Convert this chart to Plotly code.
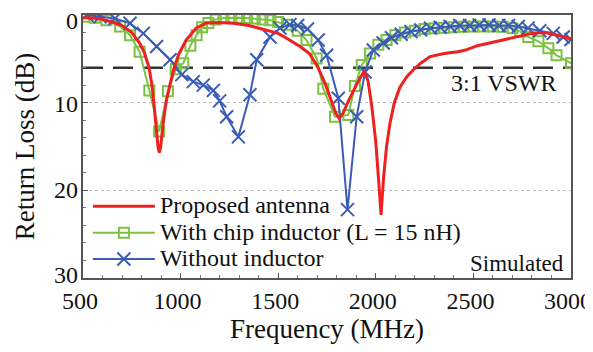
import plotly.graph_objects as go

# ---- data ----
red_f = [500, 550, 600, 650, 700, 750, 790, 815, 838, 852, 863, 873, 884, 891, 898, 910, 925, 945, 967, 990,
         1030, 1080, 1130, 1200, 1270, 1350, 1441, 1500, 1543, 1612, 1660, 1700, 1740, 1770, 1795, 1812, 1830,
         1860, 1900, 1940, 1960, 1980, 2000, 2015, 2027, 2040, 2055, 2073, 2095, 2124, 2160, 2190, 2230, 2278,
         2350, 2420, 2460, 2520, 2600, 2653, 2700, 2755, 2800, 2841, 2880, 2926, 2960, 3000]
red_db = [0.3, 0.35, 0.5, 0.8, 1.2, 2.0, 3.2, 4.3, 6.0, 7.8, 10.0, 12.5, 15.0, 15.7, 15.0, 12.5, 10.0, 8.0, 6.0, 4.5,
          2.8, 1.5, 0.9, 0.85, 0.95, 1.2, 1.7, 2.1, 2.65, 3.6, 4.4, 5.8, 7.8, 9.6, 11.2, 11.8, 11.3,
          9.8, 8.0, 6.4, 7.5, 10.5, 14.5, 19.0, 22.8, 18.5, 15.0, 12.3, 10.0, 8.2, 7.0, 6.3, 5.5, 4.75,
          4.4, 4.2, 4.0, 3.5, 3.1, 2.85, 2.6, 2.3, 2.1, 2.0, 2.05, 2.3, 2.5, 2.7]

green_f = [505, 560, 620, 690, 741, 790, 840, 890, 935, 975, 1014, 1050, 1082, 1110, 1142, 1180, 1220, 1260,
           1300, 1340, 1380, 1420, 1460, 1500, 1545, 1600, 1645, 1697, 1731, 1791, 1859, 1893, 1928, 1970, 2013,
           2055, 2100, 2150, 2200, 2250, 2300, 2350, 2400, 2450, 2500, 2550, 2600, 2650, 2700, 2740, 2781, 2833,
           2884, 2926, 3000]
green_db = [0.2, 0.3, 0.6, 1.3, 2.3, 4.2, 8.6, 13.3, 8.7, 6.2, 5.5, 3.5, 2.3, 1.4, 0.9, 0.5, 0.35, 0.3,
            0.3, 0.35, 0.4, 0.5, 0.6, 0.8, 1.1, 1.8, 2.85, 4.95, 8.4, 11.6, 11.4, 8.1, 5.7, 4.4, 3.4,
            2.85, 2.3, 2.0, 1.8, 1.6, 1.5, 1.45, 1.4, 1.35, 1.3, 1.3, 1.3, 1.35, 1.5, 1.9, 2.5, 3.0,
            3.8, 4.6, 5.5]

blue_f = [519, 587, 664, 741, 809, 877, 946, 1006, 1065, 1116, 1168, 1200, 1236, 1296, 1355, 1390, 1458, 1509,
          1560, 1600, 1650, 1705, 1748, 1808, 1855, 1902, 1945, 1987, 2038, 2080, 2130, 2180, 2230, 2280, 2330,
          2380, 2430, 2480, 2530, 2580, 2630, 2680, 2730, 2780, 2840, 2909, 2960, 3000]
blue_db = [0.0, 0.2, 0.4, 0.95, 2.1, 3.6, 5.1, 6.8, 7.6, 8.0, 8.6, 9.8, 11.6, 13.9, 9.1, 5.1, 2.5, 1.5,
           1.1, 1.2, 1.6, 2.85, 4.6, 9.5, 22.2, 11.6, 6.5, 4.0, 3.2, 2.6, 2.2, 1.9, 1.7, 1.5, 1.4,
           1.3, 1.2, 1.2, 1.15, 1.15, 1.2, 1.2, 1.3, 1.5, 1.8, 2.1, 2.5, 2.8]

vswr_f = [500, 3000]
vswr_db = [6.02, 6.02]

x_ticks = [500, 1000, 1500, 2000, 2500, 3000]
y_ticks = [0, 10, 20, 30]
y_tick_labels = ["0", "10", "20", "30"]

names = ["Proposed antenna", "With chip inductor (L = 15 nH)", "Without inductor"]

RED = "#ee2020"
GREEN = "#7cc242"
BLUE = "#3a5cb8"
FONT = "Liberation Serif, Times New Roman, serif"
TXT = "#111111"


def big(t):
    return '<span style="font-size:24px">' + t + '</span>'


fig = go.Figure()
fig.add_trace(go.Scatter(x=vswr_f, y=vswr_db, mode="lines", showlegend=False,
                         line=dict(color="#333333", width=2.5, dash="20px,10px")))
fig.add_trace(go.Scatter(x=green_f, y=green_db, mode="lines+markers", name=big(names[1]), legendrank=2,
                         line=dict(color=GREEN, width=2),
                         marker=dict(symbol="square-open", size=10, color=GREEN, line=dict(width=2))))
fig.add_trace(go.Scatter(x=blue_f, y=blue_db, mode="lines+markers", name=big(names[2]), legendrank=3,
                         line=dict(color=BLUE, width=2),
                         marker=dict(symbol="x-thin", size=13, color=BLUE, line=dict(width=2, color=BLUE))))
fig.add_trace(go.Scatter(x=red_f, y=red_db, mode="lines", name=big(names[0]), legendrank=1,
                         line=dict(color=RED, width=3)))

axis_common = dict(showline=True, mirror=True, linecolor="#555555", linewidth=1.5, automargin=False,
                   ticks="inside", ticklen=5, tickcolor="#555555", zeroline=False,
                   tickfont=dict(family=FONT, size=24, color=TXT))

fig.update_xaxes(range=[500, 3000], tickvals=x_ticks, showgrid=False, ticklabelshift=-3,
                 minor=dict(dtick=100, ticks="inside", ticklen=3, tickcolor="#777777"),
                 title=dict(text="Frequency (MHz)", font=dict(family=FONT, size=27, color=TXT), standoff=0),
                 **axis_common)
fig.update_yaxes(range=[30, 0], tickvals=y_ticks, showticklabels=False,
                 showgrid=True, gridcolor="#bbbbbb", griddash="dot", gridwidth=1,
                 minor=dict(dtick=2, ticks="inside", ticklen=3, tickcolor="#777777", showgrid=False),
                 title=dict(text="Return Loss (dB)", font=dict(family=FONT, size=27, color=TXT), standoff=39),
                 **axis_common)

# y tick labels (kept inside the figure like the reference: top label sits below the frame)
label_shift = {0: -6, 10: -1, 20: 0, 30: 3}
for v, t in zip(y_ticks, y_tick_labels):
    fig.add_annotation(x=0, y=v, xref="paper", yref="y", text=t, showarrow=False,
                       xanchor="right", yanchor="middle", xshift=-3, yshift=label_shift[v],
                       font=dict(family=FONT, size=24, color=TXT))

fig.add_annotation(x=0.975, y=7.8, xref="paper", yref="y", text="3:1 VSWR", showarrow=False,
                   xanchor="right", yanchor="middle", font=dict(family=FONT, size=24, color=TXT))
fig.add_annotation(x=0.99, y=0.0, xref="paper", yref="paper", text="Simulated", showarrow=False,
                   xanchor="right", yanchor="bottom", font=dict(family=FONT, size=23, color=TXT))

fig.update_layout(
    width=593, height=352,
    margin=dict(l=75, r=30, t=7, b=82),
    plot_bgcolor="white", paper_bgcolor="white",
    legend=dict(x=0.01, y=0.342, xanchor="left", yanchor="top", bgcolor="rgba(0,0,0,0)",
                font=dict(family=FONT, size=18, color=TXT), tracegroupgap=0, itemwidth=62),
)

fig.write_html("out.html")
